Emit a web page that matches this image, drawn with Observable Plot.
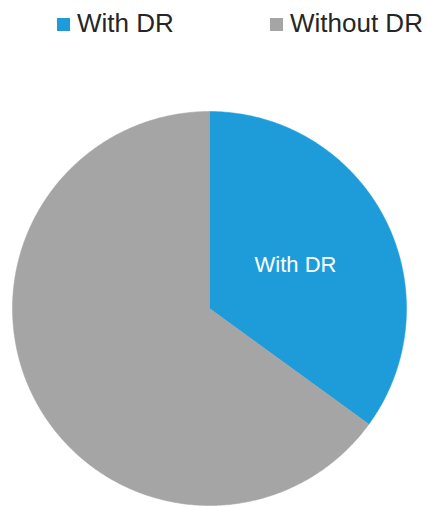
<!DOCTYPE html>
<html>
<head>
<meta charset="utf-8">
<script src="https://cdn.jsdelivr.net/npm/d3@7"></script>
<script src="https://cdn.jsdelivr.net/npm/@observablehq/plot@0.6"></script>
<style>
  html, body { margin: 0; padding: 0; background: #fff; overflow: hidden; }
  body { width: 427px; height: 506px; font-family: "Liberation Sans", Arial, sans-serif; }
  #legend { position: relative; height: 50px; width: 427px; }
  .item { position: absolute; top: 8px; height: 30px; line-height: 30px; font-size: 26px; color: #262626; white-space: nowrap; }
  .sw { position: absolute; top: 10px; width: 13px; height: 13px; }
  .lab { position: absolute; left: 20px; top: 0; }
  #chart svg { display: block; }
</style>
</head>
<body>
<div id="legend"></div>
<div id="chart"></div>
<script>
const categories = ["With DR", "Without DR"];
const values = [35, 65];
const colors = ["#1E9CDA", "#A5A5A5"];
const labelText = ["With DR", ""];

// legend
const legendLeft = [57, 270];
const legend = document.getElementById("legend");
categories.forEach((c, i) => {
  const it = document.createElement("div");
  it.className = "item";
  it.style.left = legendLeft[i] + "px";
  const sw = document.createElement("div");
  sw.className = "sw";
  sw.style.background = colors[i];
  const lb = document.createElement("div");
  lb.className = "lab";
  lb.textContent = c;
  it.appendChild(sw);
  it.appendChild(lb);
  legend.appendChild(it);
});

// slices via d3.pie (starts at 12 o'clock, clockwise)
const arcs = d3.pie().sort(null).value(d => d)(values);
const pts = [];
arcs.forEach((a, i) => {
  const name = categories[i];
  pts.push({name, x: 0, y: 0});
  const n = Math.max(2, Math.ceil((a.endAngle - a.startAngle) / 0.01));
  for (let k = 0; k <= n; k++) {
    const t = a.startAngle + (a.endAngle - a.startAngle) * k / n;
    pts.push({name, x: Math.sin(t), y: Math.cos(t)});
  }
  pts.push({name, x: 0, y: 0});
});
const labels = arcs.map((a, i) => {
  const m = (a.startAngle + a.endAngle) / 2;
  return {text: labelText[i], x: 0.49 * Math.sin(m), y: 0.49 * Math.cos(m)};
}).filter(d => d.text);

const W = 427, H = 456, cx = 209, cy = 258, R = 197;
const plot = Plot.plot({
  width: W,
  height: H,
  margin: 0,
  x: {domain: [-1, 1], range: [cx - R, cx + R], axis: null},
  y: {domain: [-1, 1], range: [cy + R, cy - R], axis: null},
  color: {domain: categories, range: colors},
  marks: [
    Plot.line(pts, {x: "x", y: "y", z: "name", fill: "name", stroke: "name", strokeWidth: 0.5, curve: "linear"}),
    Plot.text(labels, {x: "x", y: "y", text: "text", fill: "white", fontSize: 22, fontFamily: "Liberation Sans, Arial, sans-serif"})
  ]
});
document.getElementById("chart").appendChild(plot);
</script>
</body>
</html>
